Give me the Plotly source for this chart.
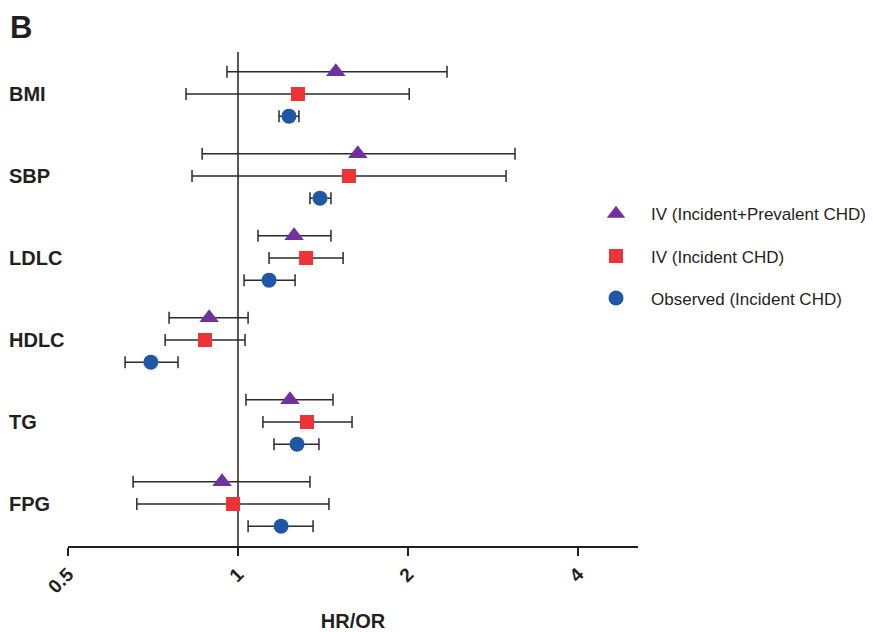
import plotly.graph_objects as go

categories = ["BMI", "SBP", "LDLC", "HDLC", "TG", "FPG"]

series_names = ["IV (Incident+Prevalent CHD)", "IV (Incident CHD)", "Observed (Incident CHD)"]

iv_all_est = [1.49, 1.63, 1.257, 0.889, 1.236, 0.937]
iv_all_lo = [0.956, 0.864, 1.085, 0.755, 1.033, 0.652]
iv_all_hi = [2.345, 3.094, 1.461, 1.042, 1.473, 1.341]

iv_inc_est = [1.277, 1.572, 1.32, 0.874, 1.325, 0.980]
iv_inc_lo = [0.809, 0.829, 1.135, 0.743, 1.107, 0.662]
iv_inc_hi = [2.01, 2.983, 1.535, 1.029, 1.592, 1.449]

obs_est = [1.231, 1.397, 1.135, 0.701, 1.272, 1.192]
obs_lo = [1.182, 1.341, 1.025, 0.631, 1.158, 1.042]
obs_hi = [1.282, 1.461, 1.262, 0.783, 1.391, 1.358]

x_ticks = [0.5, 1, 2, 4]
x_tick_labels = ["0.5", "1", "2", "4"]

FONT = "Liberation Sans, Arial, sans-serif"
DARK = "#231F20"

n = len(categories)
centers = [n - 1 - i for i in range(n)]
offsets = [0.27, 0.0, -0.27]
colors = ["#7030A0", "#EE3338", "#1F57A6"]
symbols = ["triangle-up", "square", "circle"]
sizes = [17, 14, 15]

data = [
    (iv_all_est, iv_all_lo, iv_all_hi),
    (iv_inc_est, iv_inc_lo, iv_inc_hi),
    (obs_est, obs_lo, obs_hi),
]

fig = go.Figure()
for k, (est, lo, hi) in enumerate(data):
    fig.add_trace(go.Scatter(
        x=est,
        y=[c + offsets[k] for c in centers],
        mode="markers",
        name=series_names[k],
        legendgroup=f"g{k}",
        marker=dict(symbol=symbols[k], size=sizes[k], color=colors[k], line=dict(width=0)),
        error_x=dict(
            type="data", symmetric=False,
            array=[h - e for h, e in zip(hi, est)],
            arrayminus=[e - l for e, l in zip(est, lo)],
            color="#2b2b2b", thickness=1.5, width=6,
        ),
    ))

# reference line at 1
fig.add_shape(type="line", xref="x", yref="paper", x0=1, x1=1, y0=0, y1=1,
              line=dict(color=DARK, width=1.5), layer="below")

for c, name in zip(centers, categories):
    fig.add_annotation(x=-0.107, xref="paper", y=c, yref="y", text=f"<b>{name}</b>",
                       showarrow=False, xanchor="left", yanchor="middle",
                       font=dict(family=FONT, size=20, color=DARK))

fig.add_annotation(x=-0.1053, xref="paper", y=1 + 44 / 494, yref="paper", text="<b>B</b>",
                   showarrow=False, xanchor="left", yanchor="top",
                   font=dict(family=FONT, size=31, color=DARK))

# page has an 8px body margin, so the figure is drawn 8px smaller and offset
fig.update_layout(
    width=865, height=624,
    margin=dict(l=60, r=235, t=44, b=86, autoexpand=False),
    paper_bgcolor="white", plot_bgcolor="white",
    font=dict(family=FONT, color=DARK),
    showlegend=True,
    legend=dict(x=0.900, y=0.708, xanchor="left", yanchor="top",
                font=dict(family=FONT, size=17, color=DARK),
                tracegroupgap=17, itemwidth=60, bgcolor="rgba(0,0,0,0)"),
    xaxis=dict(type="log", range=[-0.30103, 0.7083], automargin=False,
               tickvals=x_ticks, ticktext=[f"<b>{t}</b>" for t in x_tick_labels],
               tickangle=-45, tickfont=dict(family=FONT, size=19, color=DARK),
               ticks="outside", ticklen=8, tickwidth=1.5, tickcolor=DARK,
               showline=True, linecolor=DARK, linewidth=1.5, showgrid=False, zeroline=False,
               title=dict(text="<b>HR/OR</b>", font=dict(family=FONT, size=20, color=DARK), standoff=22)),
    yaxis=dict(range=[-0.512, 5.512], showticklabels=False, showgrid=False, zeroline=False,
               showline=False, ticks="", automargin=False),
)

fig.write_html("out.html")
